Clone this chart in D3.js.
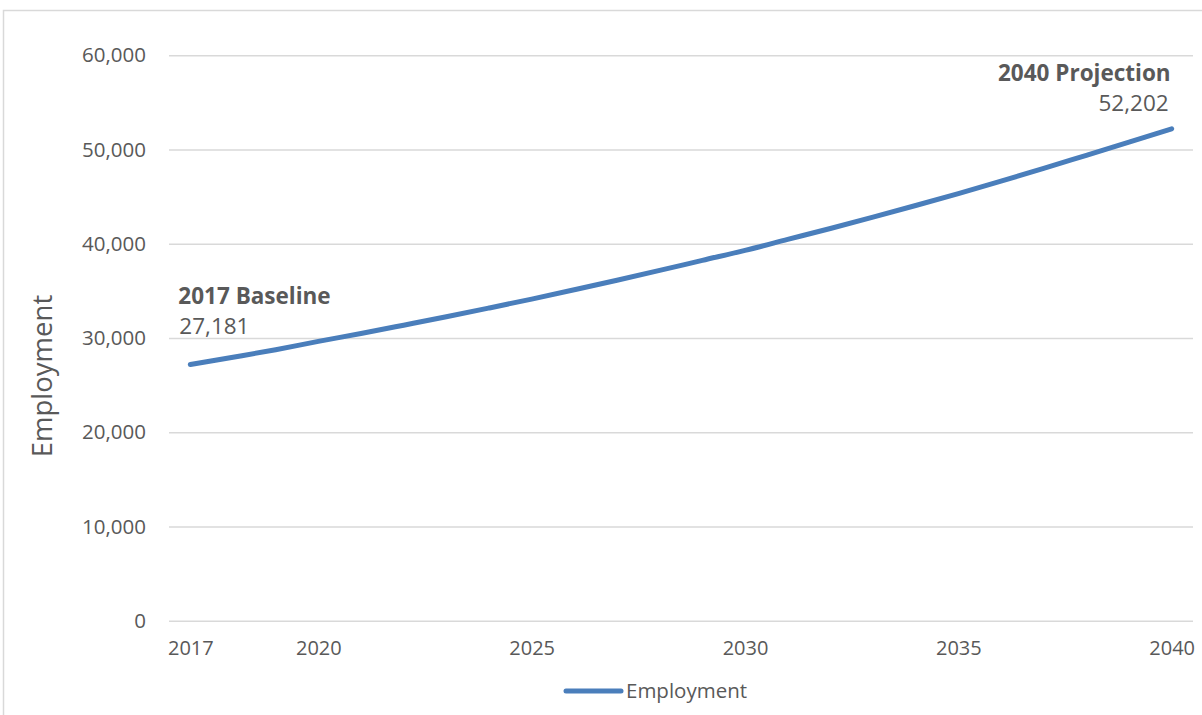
<!DOCTYPE html>
<html>
<head>
<meta charset="utf-8">
<script src="https://cdn.jsdelivr.net/npm/d3@7"></script>
<style>
  html, body { margin: 0; padding: 0; background: #fff; }
  svg { display: block; }
  text { font-family: "Open Sans", "Noto Sans", sans-serif; fill: #595959; }
</style>
</head>
<body>
<svg id="chart" width="1202" height="715"></svg>
<script>
// Employment by year, 2017 baseline through 2040 projection
const years = [2017, 2018, 2019, 2020, 2021, 2022, 2023, 2024, 2025, 2026, 2027, 2028,
               2029, 2030, 2031, 2032, 2033, 2034, 2035, 2036, 2037, 2038, 2039, 2040];
const employment = [27181, 27960, 28760, 29640, 30480, 31360, 32250, 33180, 34130, 35120, 36130, 37170,
                     38240, 39300, 40460, 41620, 42820, 44060, 45330, 46640, 47990, 49390, 50790, 52202];
const xTickYears = [2017, 2020, 2025, 2030, 2035, 2040];
const yTicks = [0, 10000, 20000, 30000, 40000, 50000, 60000];
const seriesName = "Employment";
const axisTitle = "Employment";
const callouts = [
  { year: 2017, title: "2017 Baseline", anchor: "start" },
  { year: 2040, title: "2040 Projection", anchor: "end" }
];

const svg = d3.select("#chart");
const blue = "#4a7ebb";
const grid = "#d9d9d9";

// chart frame
svg.append("rect")
  .attr("x", 3.5).attr("y", 10.5)
  .attr("width", 1200).attr("height", 710)
  .attr("fill", "none").attr("stroke", grid).attr("stroke-width", 1.5);

const plot = { left: 169, right: 1193, top: 55.3, bottom: 620.7 };

const x = d3.scalePoint()
  .domain(years)
  .range([plot.left, plot.right])
  .padding(0.5);

const y = d3.scaleLinear()
  .domain([0, 60000])
  .range([plot.bottom, plot.top]);

// horizontal gridlines + value labels
const yAxis = d3.axisLeft(y)
  .tickValues(yTicks)
  .tickFormat(d3.format(","))
  .tickSize(-(plot.right - plot.left))
  .tickPadding(23);

const yg = svg.append("g")
  .attr("transform", `translate(${plot.left},0)`)
  .call(yAxis);
yg.select(".domain").remove();
yg.selectAll(".tick line").attr("stroke", grid).attr("stroke-width", 1.5);
yg.selectAll(".tick text")
  .attr("font-size", 20.5)
  .attr("fill", "#595959")
  .style("font-family", "'Open Sans', 'Noto Sans', sans-serif");

// year labels along the bottom
const xAxis = d3.axisBottom(x)
  .tickValues(xTickYears)
  .tickSize(0)
  .tickPadding(20);

const xg = svg.append("g")
  .attr("transform", `translate(0,${plot.bottom})`)
  .call(xAxis);
xg.select(".domain").remove();
xg.selectAll(".tick text")
  .attr("font-size", 20)
  .attr("fill", "#595959")
  .style("font-family", "'Open Sans', 'Noto Sans', sans-serif");

// vertical axis title
svg.append("text")
  .attr("transform", `translate(52,376) rotate(-90)`)
  .attr("text-anchor", "middle")
  .attr("font-size", 27.5)
  .text(axisTitle);

// employment line
const data = years.map((yr, i) => ({ year: yr, value: employment[i] }));
const line = d3.line()
  .x(d => x(d.year))
  .y(d => y(d.value))
  .curve(d3.curveMonotoneX);

svg.append("path")
  .datum(data)
  .attr("d", line)
  .attr("fill", "none")
  .attr("stroke", blue)
  .attr("stroke-width", 5)
  .attr("stroke-linecap", "round")
  .attr("stroke-linejoin", "round");

// baseline / projection callouts
callouts.forEach(c => {
  const v = employment[years.indexOf(c.year)];
  const px = x(c.year);
  const py = y(v);
  const start = c.anchor === "start";
  const g = svg.append("g").attr("text-anchor", c.anchor);
  g.append("text")
    .attr("x", px + (start ? -12 : -1))
    .attr("y", py - (start ? 61 : 48))
    .attr("font-size", 22.5)
    .attr("font-weight", "bold")
    .text(c.title);
  g.append("text")
    .attr("x", px + (start ? -11 : -3))
    .attr("y", py - (start ? 31 : 18))
    .attr("font-size", 22.5)
    .text(d3.format(",")(v));
});

// legend
const lg = svg.append("g").attr("transform", "translate(566,691)");
lg.append("line")
  .attr("x1", 0).attr("x2", 55)
  .attr("y1", 0).attr("y2", 0)
  .attr("stroke", blue).attr("stroke-width", 5)
  .attr("stroke-linecap", "round");
lg.append("text")
  .attr("x", 60).attr("y", 7)
  .attr("font-size", 20.5)
  .text(seriesName);
</script>
</body>
</html>
